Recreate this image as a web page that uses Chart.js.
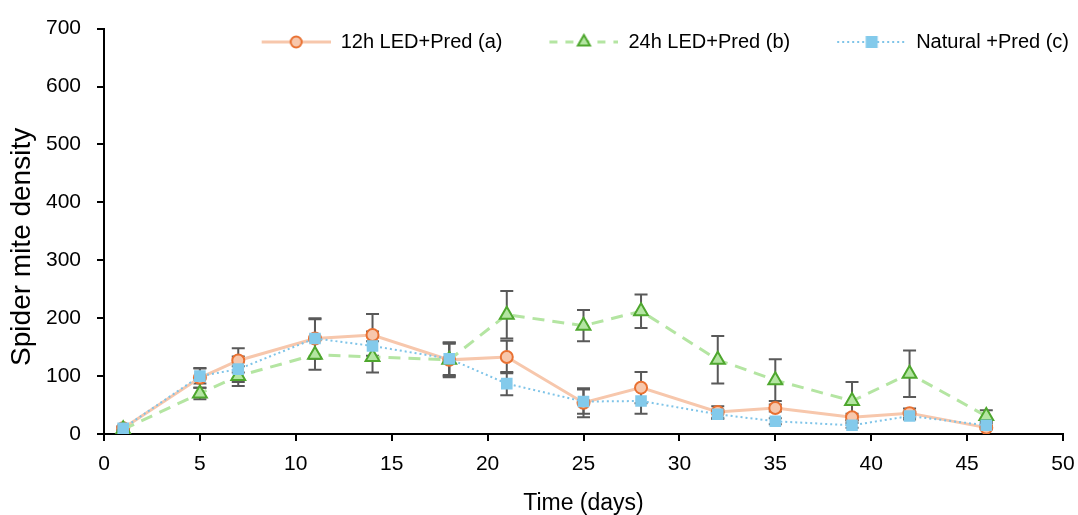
<!DOCTYPE html>
<html>
<head>
<meta charset="utf-8">
<script src="https://cdn.jsdelivr.net/npm/chart.js@4/dist/chart.umd.min.js"></script>
<style>
  html, body { margin: 0; padding: 0; background: #fff; }
  #wrap { width: 1078px; height: 515px; position: relative; }
</style>
</head>
<body>
<div id="wrap"><canvas id="chart"></canvas></div>
<script>
// ---- data ----
const days = [1, 5, 7, 11, 14, 18, 21, 25, 28, 32, 35, 39, 42, 46];
const seriesLabels = ['12h LED+Pred (a)', '24h LED+Pred (b)', 'Natural +Pred (c)'];
const led12 =    [10, 97, 127, 165, 171, 128, 133, 54, 80, 38, 45, 29, 36, 11];
const led12Err = [3, 17, 21, 35, 36, 30, 28, 25, 27, 10, 6, 6, 8, 3];
const led24 =    [8, 70, 100, 137, 133, 128, 206, 187, 212, 128, 93, 57, 104, 31];
const led24Err = [2, 10, 17, 26, 27, 28, 41, 27, 29, 41, 36, 33, 40, 10];
const natural =    [10, 100, 112, 165, 152, 130, 87, 56, 57, 34, 22, 15, 31, 15];
const naturalErr = [3, 13, 22, 33, 25, 28, 20, 21, 22, 8, 5, 4, 6, 3];
const xTitle = 'Time (days)';
const yTitle = 'Spider mite density    ';

const FONT = "'Liberation Sans', Arial, sans-serif";

function pts(vals) { return days.map((d, i) => ({ x: d, y: vals[i] })); }

// legend glyphs (line + marker)
const LEG_W = 109, LEG_LEAD = 40;
function legendImg(kind) {
  const w = LEG_W, h = 20, lx = LEG_LEAD, cx = lx + 34.5, cy = 10;
  const cv = document.createElement('canvas');
  cv.width = w; cv.height = h;
  const g = cv.getContext('2d');
  g.lineCap = 'butt';
  if (kind === 'a') {
    g.strokeStyle = '#F7C7AC'; g.lineWidth = 3; g.setLineDash([]);
  } else if (kind === 'b') {
    g.strokeStyle = '#B4E5A2'; g.lineWidth = 3; g.setLineDash([8, 8]);
  } else {
    g.strokeStyle = '#7FC4E8'; g.lineWidth = 2; g.setLineDash([2, 3]);
  }
  g.beginPath(); g.moveTo(lx, cy); g.lineTo(w, cy); g.stroke();
  g.setLineDash([]);
  if (kind === 'a') {
    g.beginPath(); g.arc(cx, cy, 5.5, 0, Math.PI * 2);
    g.fillStyle = '#F7C7AC'; g.fill();
    g.lineWidth = 2; g.strokeStyle = '#E97132'; g.stroke();
  } else if (kind === 'b') {
    const r = 7;
    g.beginPath();
    g.moveTo(cx, cy - r);
    g.lineTo(cx + r * Math.sin(2 * Math.PI / 3), cy - r * Math.cos(2 * Math.PI / 3));
    g.lineTo(cx + r * Math.sin(4 * Math.PI / 3), cy - r * Math.cos(4 * Math.PI / 3));
    g.closePath();
    g.fillStyle = '#B4E5A2'; g.fill();
    g.lineWidth = 2; g.strokeStyle = '#4EA72E'; g.stroke();
  } else {
    g.fillStyle = '#83CAEB';
    g.fillRect(cx - 6, cy - 6, 12, 12);
  }
  return cv;
}
const legendImgs = [legendImg('a'), legendImg('b'), legendImg('c')];

const errorSets = [led12Err, led24Err, naturalErr];

const errorBarPlugin = {
  id: 'errorBars',
  beforeDatasetsDraw(chart) {
    const ctx = chart.ctx;
    const xs = chart.scales.x, ys = chart.scales.y;
    ctx.save();
    ctx.strokeStyle = '#595959';
    ctx.lineWidth = 2;
    chart.data.datasets.forEach((ds, di) => {
      const errs = errorSets[di];
      ds.data.forEach((p, j) => {
        const e = errs[j];
        const x = xs.getPixelForValue(p.x);
        const yh = ys.getPixelForValue(p.y + e);
        const yl = ys.getPixelForValue(Math.max(0, p.y - e));
        ctx.beginPath();
        ctx.moveTo(x, yh); ctx.lineTo(x, yl);
        ctx.moveTo(x - 6.5, yh); ctx.lineTo(x + 6.5, yh);
        ctx.moveTo(x - 6.5, yl); ctx.lineTo(x + 6.5, yl);
        ctx.stroke();
      });
    });
    ctx.restore();
  }
};

// keep the legend inside the plot area (no vertical space reserved)
const legendInsidePlugin = {
  id: 'legendInside',
  beforeLayout(chart) {
    const lg = chart.legend;
    if (lg && !lg._zeroPatched) {
      const f = lg.fit;
      lg.fit = function () { f.call(this); this.height = 0; };
      lg._zeroPatched = true;
    }
  },
  afterLayout(chart) {
    const lg = chart.legend;
    if (lg) {
      lg.top = 25;
      lg.bottom = 60;
      lg.right = 1076;
    }
  }
};

new Chart(document.getElementById('chart'), {
  type: 'line',
  data: {
    datasets: [
      {
        label: seriesLabels[0], data: pts(led12), order: 3,
        borderColor: '#F7C7AC', borderWidth: 3, tension: 0,
        pointStyle: 'circle', pointRadius: 6, pointHoverRadius: 6,
        pointBackgroundColor: '#F7C7AC', pointBorderColor: '#E97132', pointBorderWidth: 2
      },
      {
        label: seriesLabels[1], data: pts(led24), order: 2,
        borderColor: '#B4E5A2', borderWidth: 3, borderDash: [12, 8], tension: 0,
        pointStyle: 'triangle', pointRadius: 8, pointHoverRadius: 8,
        pointBackgroundColor: '#B4E5A2', pointBorderColor: '#4EA72E', pointBorderWidth: 2
      },
      {
        label: seriesLabels[2], data: pts(natural), order: 1,
        borderColor: '#7FC4E8', borderWidth: 2, borderDash: [2, 3], tension: 0,
        pointStyle: 'rect', pointRadius: 8.2, pointHoverRadius: 8.2,
        pointBackgroundColor: '#83CAEB', pointBorderColor: '#83CAEB', pointBorderWidth: 0
      }
    ]
  },
  options: {
    responsive: true,
    maintainAspectRatio: false,
    animation: false,
    layout: { padding: { left: 0, right: 15, top: 25, bottom: 0 } },
    plugins: {
      tooltip: { enabled: false },
      legend: {
        display: true,
        position: 'top',
        align: 'end',
        labels: {
          usePointStyle: true,
          pointStyleWidth: LEG_W,
          padding: 7,
          color: '#000',
          font: { family: FONT, size: 20 },
          generateLabels(chart) {
            const items = Chart.defaults.plugins.legend.labels.generateLabels(chart);
            items.sort((p, q) => p.datasetIndex - q.datasetIndex);
            items.forEach(it => { it.pointStyle = legendImgs[it.datasetIndex]; it.lineWidth = 0; });
            return items;
          }
        }
      }
    },
    scales: {
      x: {
        type: 'linear', min: 0, max: 50,
        ticks: { stepSize: 5, color: '#000', padding: 11, font: { family: FONT, size: 21 } },
        grid: { drawOnChartArea: false, drawTicks: true, tickLength: 7, color: '#000', lineWidth: 2 },
        border: { display: true, color: '#000', width: 2 },
        title: { display: true, text: xTitle, color: '#000', font: { family: FONT, size: 23 }, padding: { top: 0, bottom: -2 } },
        afterFit(scale) { scale.height = 81; scale.paddingRight = 0; scale.paddingLeft = 0; }
      },
      y: {
        type: 'linear', min: 0, max: 700,
        ticks: { stepSize: 100, color: '#000', padding: 16, font: { family: FONT, size: 21 } },
        grid: { drawOnChartArea: false, drawTicks: true, tickLength: 7, color: '#000', lineWidth: 2 },
        border: { display: true, color: '#000', width: 2 },
        title: { display: true, text: yTitle, color: '#000', font: { family: FONT, size: 28 }, padding: { top: 5, bottom: 0 } },
        afterFit(scale) { scale.width = 104; }
      }
    }
  },
  plugins: [errorBarPlugin, legendInsidePlugin]
});
</script>
</body>
</html>
